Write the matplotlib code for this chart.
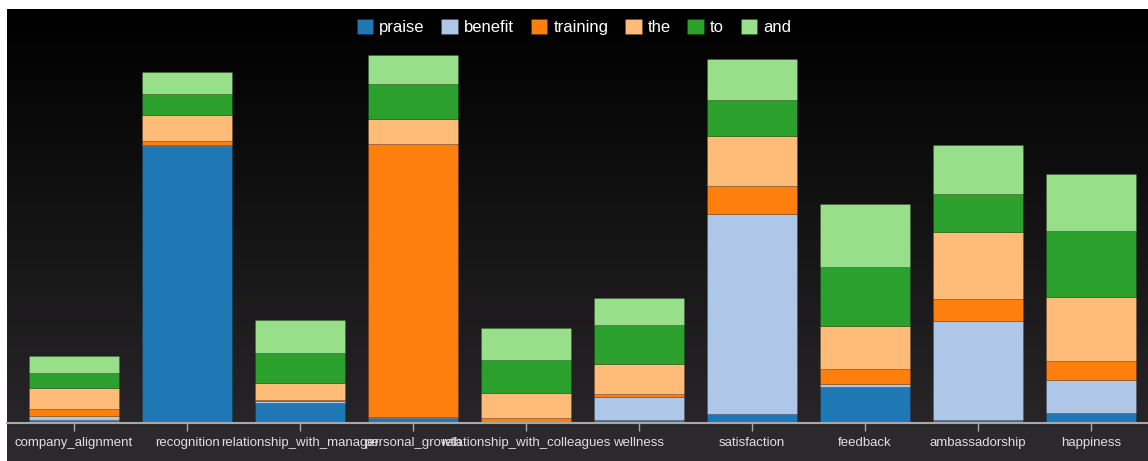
import numpy as np
import matplotlib
matplotlib.use("Agg")
import matplotlib.pyplot as plt
from matplotlib.colors import LinearSegmentedColormap

plt.rcParams['font.family'] = ['Liberation Sans', 'DejaVu Sans']

# --- data: word counts stacked per topic ---
categories = ['company_alignment', 'recognition', 'relationship_with_manager',
              'personal_growth', 'relationship_with_colleagues', 'wellness',
              'satisfaction', 'feedback', 'ambassadorship', 'happiness']
series_names = ['praise', 'benefit', 'training', 'the', 'to', 'and']

praise   = [3.3, 277.6, 20.0,   5.3, 0.0,  3.3,   9.3, 36.0,  3.0, 10.0]
benefit  = [4.3,   1.0,  2.0,   1.3, 1.6, 22.7, 200.0,  3.0, 99.0, 33.0]
training = [6.3,   3.7,  1.3, 272.4, 3.7,  3.3,  27.7, 15.0, 22.0, 19.0]
the      = [21.0, 26.3, 17.0,  25.0, 25.0, 30.3, 50.0, 43.0, 67.0, 64.0]
to       = [15.7, 20.4, 29.7,  35.6, 32.7, 38.4, 36.0, 59.0, 38.0, 66.0]
and_     = [17.0, 22.6, 33.6,  28.7, 32.0, 27.0, 41.0, 63.0, 49.0, 57.0]

colors = ['#1f77b4', '#aec7e8', '#ff7f0e', '#ffbb78', '#2ca02c', '#98df8a']

W, H = 1148, 461
fig = plt.figure(figsize=(W / 100, H / 100), dpi=100)
fig.patch.set_facecolor('white')

# dark panel: gradient over the plot, flat strip under the axis
bg = fig.add_axes([7 / W, 0, 1 - 7 / W, (H - 9) / H])
bg.set_axis_off()
grad = np.linspace(0, 1, 256).reshape(-1, 1)
cmap = LinearSegmentedColormap.from_list('bg', ['#000000', '#141314', '#272527'])
bg.imshow(grad, aspect='auto', cmap=cmap, extent=[0, 1, (H - 423) / (H - 9), 1])
bg.axhspan(0, (H - 423) / (H - 9), color='#2b292b')
bg.set_xlim(0, 1)
bg.set_ylim(0, 1)

base_y = 423.3
ax = fig.add_axes([7 / W, (H - base_y) / H, 1 - 7 / W, (base_y - 9) / H])
ax.patch.set_alpha(0)

x = np.arange(len(categories))
stack = [praise, benefit, training, the, to, and_]
bottom = np.zeros(len(categories))
for name, vals, c in zip(series_names, stack, colors):
    ax.bar(x, vals, bottom=bottom, width=0.796, color=c, label=name,
           edgecolor=(0, 0, 0, 0.15), linewidth=0.6)
    bottom += np.array(vals)

ax.set_xlim(-0.593, -0.593 + (W - 7) / 113)
ax.set_ylim(0, base_y - 9)

for s in ['top', 'right', 'left']:
    ax.spines[s].set_visible(False)
ax.spines['bottom'].set_color('#a8a8a8')
ax.spines['bottom'].set_linewidth(1.5)
ax.set_yticks([])
ax.set_xticks(x)
ax.set_xticklabels(categories, fontsize=9.5, color='#e0e0e0')
ax.tick_params(axis='x', length=6, width=1, color='#a8a8a8', pad=4)

leg = fig.legend(loc='center', bbox_to_anchor=(0.5, 1 - 27 / H), ncol=6,
                 frameon=False, fontsize=12, labelcolor='white',
                 handlelength=1.0, handleheight=1.0, handletextpad=0.36,
                 columnspacing=1.0, borderaxespad=0)

fig.savefig('out.png', dpi=100)
